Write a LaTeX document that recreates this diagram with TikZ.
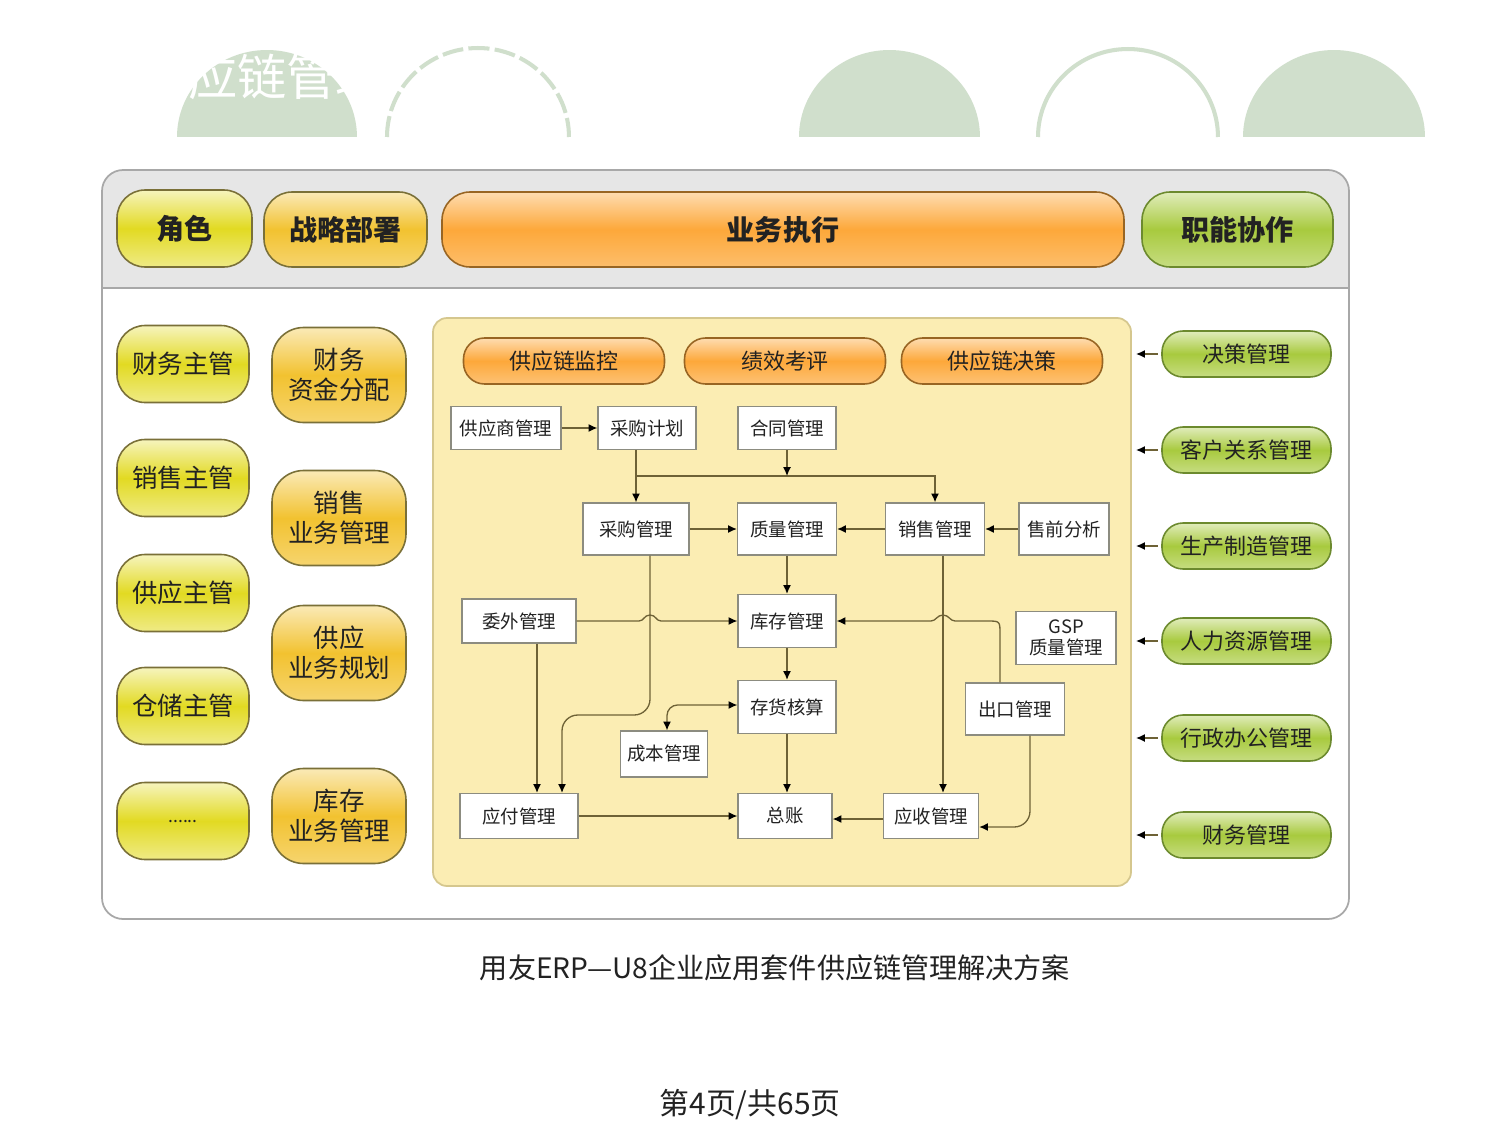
\documentclass[tikz,border=0pt]{standalone}
\usepackage{fontspec}
\setmainfont{Noto Sans CJK SC}
\usetikzlibrary{arrows.meta}
\definecolor{deco}{HTML}{D0DFCC}
\definecolor{framegray}{HTML}{A8A8A8}
\definecolor{headgray}{HTML}{E6E6E6}
\definecolor{ygreen}{HTML}{E2DA22}
\definecolor{gold}{HTML}{F2C230}
\definecolor{orng}{HTML}{FDA83A}
\definecolor{lgreen}{HTML}{A8CA3E}
\definecolor{panel}{HTML}{FBEDB3}
\definecolor{panelline}{HTML}{D5C78E}
\definecolor{pillline}{HTML}{7A7038}
\definecolor{gpillline}{HTML}{6C8A2E}
\definecolor{conn}{HTML}{6E6236}
\definecolor{boxline}{HTML}{8C8C80}
\definecolor{txt}{HTML}{222222}
\tikzset{
  sz/.style 2 args={minimum width=#1*0.02cm, minimum height=#2*0.02cm},
  pill/.style={draw=pillline, line width=0.9pt, align=center, inner sep=0pt, text=txt},
  ypill/.style={pill, rounded corners=16pt, top color=ygreen!30!white, bottom color=ygreen!55!white, middle color=ygreen, font=\fontsize{14.5}{17}\selectfont},
  gpill/.style={pill, rounded corners=18pt, top color=gold!35!white, bottom color=gold!70!white, middle color=gold, font=\fontsize{14.5}{17}\selectfont},
  headpill/.style={pill, rounded corners=16pt, font=\bfseries\fontsize{16}{19}\selectfont},
  opill/.style={pill, rounded corners=12pt, draw=orng!60!black, top color=orng!40!white, bottom color=orng!70!white, middle color=orng, font=\fontsize{12.5}{15}\selectfont},
  rpill/.style={pill, rounded corners=12pt, draw=gpillline, top color=lgreen!35!white, bottom color=lgreen!65!white, middle color=lgreen, font=\fontsize{12.5}{15}\selectfont},
  wbox/.style={draw=boxline, fill=white, line width=0.7pt, inner sep=0pt, align=center, text=txt, font=\fontsize{10.5}{12.5}\selectfont},
  line/.style={draw=conn, line width=0.75pt},
  arr/.style={line, -{Latex[length=5pt,width=4.5pt,color=black]}},
  darr/.style={line, {Latex[length=5pt,width=4.5pt,color=black]}-{Latex[length=5pt,width=4.5pt,color=black]}},
}
\begin{document}
\begin{tikzpicture}[x=0.02cm, y=-0.02cm]
\useasboundingbox[fill=white] (0,0) rectangle (1500,1125);
% decorative top shapes
\fill[deco] (177,137) arc[start angle=180, end angle=0, x radius=1.8cm, y radius=1.74cm] -- cycle;
\draw[deco, line width=2.3pt, dash pattern=on 12pt off 3pt] (387,137) arc[start angle=180, end angle=0, x radius=1.82cm, y radius=1.78cm];
\fill[deco] (799,137) arc[start angle=180, end angle=0, x radius=1.81cm, y radius=1.74cm] -- cycle;
\draw[deco, line width=2.3pt] (1038,137) arc[start angle=180, end angle=0, x radius=1.80cm, y radius=1.76cm];
\fill[deco] (1243,137) arc[start angle=180, end angle=0, x radius=1.82cm, y radius=1.74cm] -- cycle;
\node[text=white, font=\fontsize{28}{30}\selectfont, inner sep=0pt] (title) at (262,77) {供应链管理};
% main frame
\begin{scope}
\clip[rounded corners=12pt] (102,170) rectangle (1349,919);
\fill[headgray] (102,170) rectangle (1349,288);
\end{scope}
\draw[framegray, line width=0.6pt] (102,288) -- (1349,288);
\draw[framegray, line width=1pt, rounded corners=12pt] (102,170) rectangle (1349,919);
% header
\node[headpill, sz={135}{77}, top color=ygreen!30!white, bottom color=ygreen!55!white, middle color=ygreen] (hjs) at (184.5,228.5) {角色};
\node[headpill, sz={163}{75}, top color=gold!35!white, bottom color=gold!70!white, middle color=gold] (hzl) at (345.5,229.5) {战略部署};
\node[headpill, sz={682}{75}, draw=orng!60!black, top color=orng!40!white, bottom color=orng!75!white, middle color=orng] (hyw) at (783,229.5) {业务执行};
\node[headpill, sz={191}{75}, draw=gpillline, top color=lgreen!35!white, bottom color=lgreen!65!white, middle color=lgreen] (hzn) at (1237.5,229.5) {职能协作};
% left roles
\node[ypill, sz={132}{77}] (r1) at (183,364) {财务主管};
\node[ypill, sz={132}{77}] (r2) at (183,478) {销售主管};
\node[ypill, sz={132}{77}] (r3) at (183,593) {供应主管};
\node[ypill, sz={132}{77}] (r4) at (183,706) {仓储主管};
\node[ypill, sz={132}{77}, font=\fontsize{10}{12}\selectfont] (r5) at (183,821) {......};
% strategy
\node[gpill, sz={134}{95}] (s1) at (339,375) {财务\\资金分配};
\node[gpill, sz={134}{95}] (s2) at (339,518) {销售\\业务管理};
\node[gpill, sz={134}{95}] (s3) at (339,653) {供应\\业务规划};
\node[gpill, sz={134}{95}] (s4) at (339,816) {库存\\业务管理};
% panel
\draw[fill=panel, draw=panelline, line width=1pt, rounded corners=8pt] (433,318) rectangle (1131,886);
\node[opill, sz={201}{46}] (o1) at (564,361) {供应链监控};
\node[opill, sz={201}{46}] (o2) at (785,361) {绩效考评};
\node[opill, sz={201}{46}] (o3) at (1002,361) {供应链决策};
% right functions
\node[rpill, sz={169}{46}] (f1) at (1246.5,354) {决策管理};
\node[rpill, sz={169}{46}] (f2) at (1246.5,450) {客户关系管理};
\node[rpill, sz={169}{46}] (f3) at (1246.5,546) {生产制造管理};
\node[rpill, sz={169}{46}] (f4) at (1246.5,641) {人力资源管理};
\node[rpill, sz={169}{46}] (f5) at (1246.5,738) {行政办公管理};
\node[rpill, sz={169}{46}] (f6) at (1246.5,835) {财务管理};
\foreach \i/\yy in {1/354,2/450,3/546,4/641,5/738,6/835}{
  \coordinate (fa\i) at (1136,\yy);
  \draw[arr] ([xshift=-2pt]f\i.west) -- (fa\i);
}
% white boxes
\node[wbox, sz={110}{43}] (gys) at (506,428) {供应商管理};
\node[wbox, sz={98}{43}] (cgjh) at (647,428) {采购计划};
\node[wbox, sz={98}{43}] (htgl) at (787,428) {合同管理};
\node[wbox, sz={106}{52}] (cggl) at (636,529) {采购管理};
\node[wbox, sz={99}{52}] (zlgl) at (787,529) {质量管理};
\node[wbox, sz={99}{52}] (xsgl) at (935,529) {销售管理};
\node[wbox, sz={90}{52}] (sqfx) at (1064,529) {售前分析};
\node[wbox, sz={114}{44}] (wwgl) at (519,621) {委外管理};
\node[wbox, sz={98}{53}] (kcgl) at (787,621) {库存管理};
\node[wbox, sz={100}{53}, font=\fontsize{10.5}{12}\selectfont] (gsp) at (1066,638) {GSP\\质量管理};
\node[wbox, sz={98}{53}] (chhs) at (787,707) {存货核算};
\node[wbox, sz={99}{52}] (ckgl) at (1015,709) {出口管理};
\node[wbox, sz={87}{46}] (cbgl) at (664,754) {成本管理};
\node[wbox, sz={118}{45}] (yfgl) at (519,816) {应付管理};
\node[wbox, sz={94}{45}] (zz) at (785,816) {总账};
\node[wbox, sz={95}{45}] (ysgl) at (931,816) {应收管理};
% helper coordinates
\coordinate (bus) at (0,476);
\coordinate (cgx) at (650,0);
\coordinate (wwx) at (537,0);
\coordinate (yfx) at (562,0);
\coordinate (xsx) at (943,0);
\coordinate (ckx1) at (1000,0);
\coordinate (ckx2) at (1030,0);
\coordinate (ysy) at (0,827);
\coordinate (cby) at (0,705);
% connectors
\draw[arr] (gys.east) -- (cgjh.west);
\draw[arr] (cgjh.south -| cggl.north) -- (cggl.north);
\draw[arr] (cggl.north |- bus) -| (xsgl.north);
\draw[arr] (htgl.south) -- (htgl.south |- bus);
\draw[arr] (cggl.east) -- (zlgl.west);
\draw[arr] (xsgl.west) -- (zlgl.east);
\draw[arr] (sqfx.west) -- (xsgl.east);
\draw[arr] (zlgl.south) -- (kcgl.north);
\draw[arr] (wwgl.east) -- (639,621) .. controls (644,621) and (644,615) .. (650,615) .. controls (656,615) and (656,621) .. (661,621) -- (kcgl.west);
\draw[arr] (kcgl.south) -- (chhs.north);
\draw[arr] (chhs.south) -- (chhs.south |- zz.north);
\draw[darr, rounded corners=6pt] (cbgl.north -| 667,0) -- (667,705) -- (chhs.west |- cby);
\draw[arr, rounded corners=9pt] (cggl.south -| cgx) -- (650,715) -- (562,715) -- (yfgl.north -| yfx);
\draw[arr] (wwgl.south -| wwx) -- (yfgl.north -| wwx);
\draw[arr] (yfgl.east) -- (zz.west);
\draw[arr] (ysgl.west |- 0,819) -- (zz.east |- 0,819);
\draw[arr] (xsgl.south -| xsx) -- (ysgl.north -| xsx);
\draw[arr] (ckgl.north -| ckx1) -- (1000,634) .. controls (1000,621) and (1000,621) .. (987,621) -- (955,621) .. controls (950,621) and (949,615) .. (943,615) .. controls (937,615) and (936,621) .. (931,621) -- (kcgl.east);
\draw[arr, rounded corners=9pt] (ckgl.south -| ckx2) -- (1030,827) -- (ysgl.east |- ysy);
% captions
\node[text=txt, font=\fontsize{16}{18}\selectfont, inner sep=0pt] (cap) at (775,968) {用友ERP—U8企业应用套件供应链管理解决方案};
\node[text=txt, font=\fontsize{17}{19}\selectfont, inner sep=0pt] (page) at (750,1105) {第4页/共65页};
\end{tikzpicture}
\end{document}
